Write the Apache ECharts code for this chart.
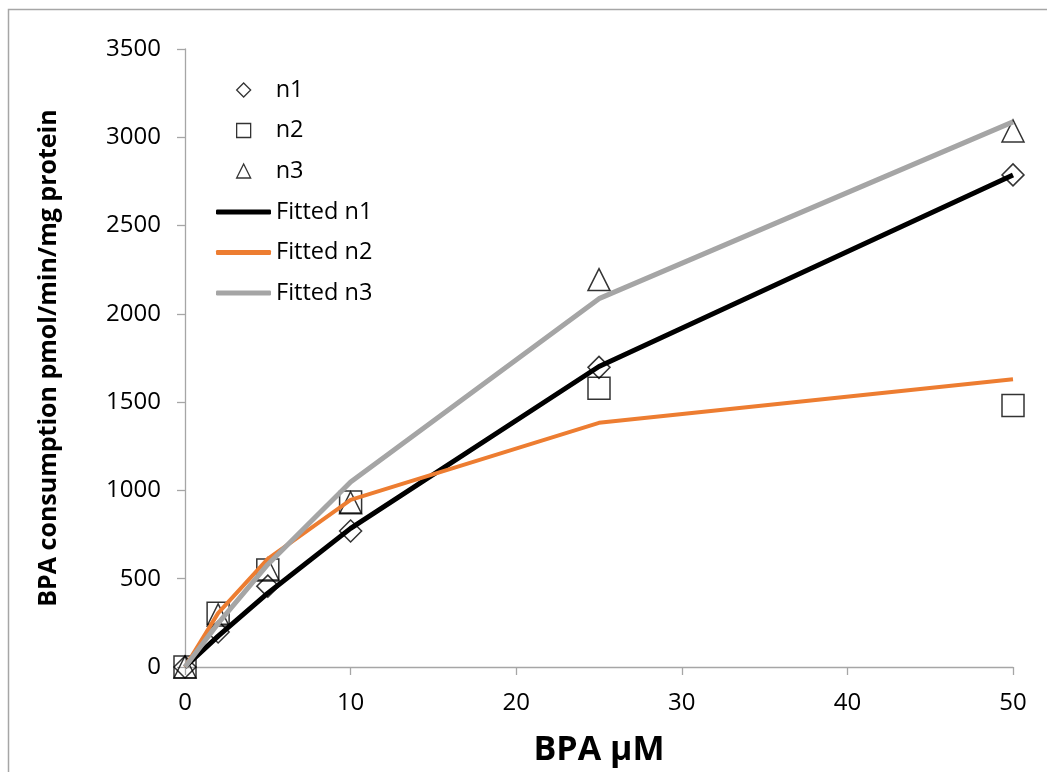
<!DOCTYPE html>
<html>
<head>
<meta charset="utf-8">
<script src="https://cdn.jsdelivr.net/npm/echarts@6/dist/echarts.min.js"></script>
<style>html,body{margin:0;padding:0;background:#fff}#c{width:1047px;height:772px}</style>
</head>
<body>
<div id="c"></div>
<script>
const xValues = [0, 2, 5, 10, 25, 50];
const n1 = [0, 198, 458, 770, 1697, 2787];
const n2 = [0, 305, 550, 935, 1578, 1481];
const n3 = [0, 295, 555, 930, 2194, 3036];
const fittedN1 = [0, 175, 418, 785, 1702, 2787];
const fittedN2 = [0, 305, 612, 946, 1383, 1630];
const fittedN3 = [0, 247, 581, 1048, 2086, 3087];
const yTicks = [0, 500, 1000, 1500, 2000, 2500, 3000, 3500];
const xTicks = [0, 10, 20, 30, 40, 50];

const pair = (ys) => xValues.map((x, i) => [x, ys[i]]);
const FONT = '"Open Sans", "Noto Sans", sans-serif';
const axisGray = '#A6A6A6';

const markerStyle = { color: 'rgba(0,0,0,0)', borderColor: '#000', borderWidth: 1.5 };
const hollow = { color: 'rgba(0,0,0,0)', borderColor: '#000', borderWidth: 1.3 };

const chart = echarts.init(document.getElementById('c'), null, { renderer: 'canvas' });
chart.setOption({
  animation: false,
  backgroundColor: '#fff',
  graphic: [{
    type: 'rect', silent: true, z: -10,
    shape: { x: 8.5, y: 9.5, width: 1200, height: 1000 },
    style: { fill: 'none', stroke: '#A6A6A6', lineWidth: 1.5 }
  }],
  grid: { left: 185, right: 34, top: 49, bottom: 104, containLabel: false },
  xAxis: {
    type: 'value', min: 0, max: 50, interval: 10,
    name: 'BPA μM', nameLocation: 'middle', nameGap: 66,
    nameTextStyle: { fontFamily: FONT, fontSize: 34, fontWeight: 'bold', color: '#000' },
    axisLine: { show: true, lineStyle: { color: axisGray, width: 1.3 } },
    axisTick: { show: true, inside: false, length: 8, lineStyle: { color: axisGray, width: 1.3 } },
    axisLabel: { margin: 24, fontFamily: FONT, fontSize: 24, color: '#000',
      formatter: v => xTicks.includes(v) ? String(v) : '' },
    splitLine: { show: false }
  },
  yAxis: {
    type: 'value', min: 0, max: 3500, interval: 500,
    name: 'BPA consumption pmol/min/mg protein', nameLocation: 'middle', nameGap: 124,
    nameTextStyle: { fontFamily: FONT, fontSize: 25, fontWeight: 'bold', color: '#000' },
    axisLine: { show: true, lineStyle: { color: axisGray, width: 1.3 } },
    axisTick: { show: true, inside: false, length: 8, lineStyle: { color: axisGray, width: 1.3 } },
    axisLabel: { margin: 24, fontFamily: FONT, fontSize: 24, color: '#000',
      formatter: v => yTicks.includes(v) ? String(v) : '' },
    splitLine: { show: false }
  },
  legend: [{
    orient: 'vertical', left: 236, top: 78, padding: 0,
    itemWidth: 14, itemHeight: 14, itemGap: 16.5,
    textStyle: { fontFamily: FONT, fontSize: 23.5, color: '#000', lineHeight: 20, padding: [0, 0, 0, 20] },
    data: [
      { name: 'n1', icon: 'diamond', itemStyle: hollow },
      { name: 'n2', icon: 'rect', itemStyle: hollow },
      { name: 'n3', icon: 'triangle', itemStyle: hollow }
    ]
  }, {
    orient: 'vertical', left: 216, top: 200, padding: 0,
    itemWidth: 55, itemHeight: 5, itemGap: 16.5,
    textStyle: { fontFamily: FONT, fontSize: 23.5, color: '#000', lineHeight: 20, padding: [0, 0, 0, 0] },
    data: [
      { name: 'Fitted n1', icon: 'roundRect', itemStyle: { color: '#000', borderWidth: 0 } },
      { name: 'Fitted n2', icon: 'roundRect', itemStyle: { color: '#ED7D31', borderWidth: 0 } },
      { name: 'Fitted n3', icon: 'roundRect', itemStyle: { color: '#A5A5A5', borderWidth: 0 } }
    ]
  }],
  series: [
    { name: 'n1', type: 'scatter', symbol: 'diamond', symbolSize: 22, data: pair(n1), itemStyle: markerStyle, z: 2 },
    { name: 'n2', type: 'scatter', symbol: 'rect', symbolSize: 22, data: pair(n2), itemStyle: markerStyle, z: 2 },
    { name: 'n3', type: 'scatter', symbol: 'triangle', symbolSize: 22, data: pair(n3), itemStyle: markerStyle, z: 2 },
    { name: 'Fitted n1', type: 'line', symbol: 'none', data: pair(fittedN1), z: 3,
      lineStyle: { color: '#000', width: 5 }, itemStyle: { color: '#000' } },
    { name: 'Fitted n2', type: 'line', symbol: 'none', data: pair(fittedN2), z: 3,
      lineStyle: { color: '#ED7D31', width: 4 }, itemStyle: { color: '#ED7D31' } },
    { name: 'Fitted n3', type: 'line', symbol: 'none', data: pair(fittedN3), z: 3,
      lineStyle: { color: '#A5A5A5', width: 5 }, itemStyle: { color: '#A5A5A5' } }
  ]
});
</script>
</body>
</html>
